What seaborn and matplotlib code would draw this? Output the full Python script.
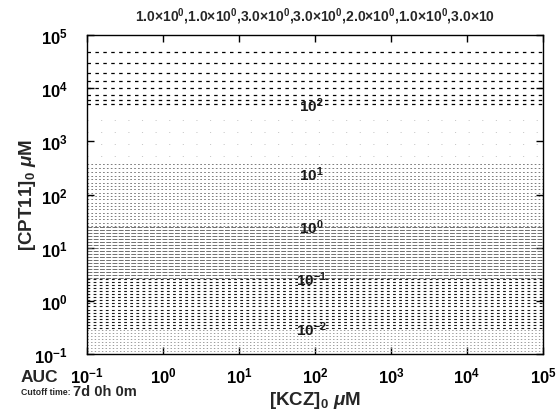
import numpy as np
import pandas as pd
import seaborn as sns
import matplotlib
matplotlib.use("Agg")
import matplotlib.pyplot as plt

# AUC profile along [CPT11]0 (the surface does not vary with [KCZ]0)
cpt11_knots = [0.1, 0.3, 2.6, 24.5, 245.0, 5000.0, 6000.0, 7400.0, 10000.0,
               13500.0, 19000.0, 29400.0, 48500.0, 100000.0]
auc_knots = [0.003, 0.01, 0.1, 1.0, 10.0, 100.0, 200.0, 300.0, 400.0,
             500.0, 600.0, 700.0, 800.0, 1200.0]

# labelled contour values
label_levels = [0.01, 0.1, 1.0, 10.0, 100.0]
label_texts = [r"$10^{-2}$", r"$10^{-1}$", r"$10^{0}$", r"$10^{1}$", r"$10^{2}$"]

# upper dashed contour values
upper_levels = [100.0, 200.0, 300.0, 400.0, 500.0, 600.0, 700.0, 800.0]

x_ticks = [1e-1, 1e0, 1e1, 1e2, 1e3, 1e4, 1e5]
y_ticks = [1e-1, 1e0, 1e1, 1e2, 1e3, 1e4, 1e5]

header = (r"1.0×10$^0$,1.0×10$^0$,3.0×10$^0$,3.0×10$^0$,"
          r"2.0×10$^0$,1.0×10$^0$,3.0×10")

sns.set_theme(style="ticks")
plt.rcParams.update({
    "font.family": ["Liberation Sans", "DejaVu Sans"],
    "font.weight": "bold",
    "mathtext.fontset": "custom",
    "mathtext.rm": "Liberation Sans:bold",
    "mathtext.bf": "Liberation Sans:bold",
    "mathtext.it": "Liberation Sans:bold:italic",
    "mathtext.default": "bf",
    "axes.linewidth": 1.0,
    "axes.edgecolor": "black",
    "xtick.direction": "in",
    "ytick.direction": "in",
    "xtick.top": True,
    "ytick.right": True,
    "lines.scale_dashes": False,
})

kcz = np.geomspace(0.1, 1e5, 60)
cpt = np.geomspace(0.1, 1e5, 4000)
profile = 10 ** np.interp(np.log10(cpt), np.log10(cpt11_knots), np.log10(auc_knots))
grid = pd.DataFrame(np.tile(profile[:, None], (1, kcz.size)), index=cpt, columns=kcz)
Z = grid.values

fig = plt.figure(figsize=(5.58, 4.10), dpi=100)
ax = fig.add_axes([0.156, 0.134, 0.817, 0.778])
ax.set_xscale("log")
ax.set_yscale("log")


def band(levels, color, lw, dashes):
    cs = ax.contour(kcz, cpt, Z, levels=levels, colors=color, linewidths=lw)
    cs.set_linestyle((0, dashes))
    return cs


# textured bands of closely spaced contours
band(np.geomspace(0.0035, 0.0095, 8), "0.55", 0.6, (1.0, 1.6))
band(np.geomspace(0.0105, 0.098, 17), "0.1", 0.8, (2.0, 2.4))
band(np.geomspace(0.105, 0.98, 18), "0.35", 0.6, (3.5, 1.0))
band(np.geomspace(1.05, 14.0, 19), "0.4", 0.6, (1.2, 1.6))
band([18.0, 27.0, 40.0, 60.0], "0.7", 0.5, (0.8, 9.0))
band(upper_levels, "black", 0.9, (2.5, 3.2))

# labels on the decade contours (lines themselves hidden inside the bands)
cs_lab = ax.contour(kcz, cpt, Z, levels=label_levels, colors="black", linewidths=0.0)
lab_pos = [(90.0, 10 ** np.interp(np.log10(v), np.log10(auc_knots), np.log10(cpt11_knots)))
           for v in label_levels]
ax.clabel(cs_lab, levels=label_levels, fmt=dict(zip(label_levels, label_texts)),
          manual=lab_pos, inline=False, fontsize=11, colors="0.1")

ax.set_xlim(1e-1, 1e5)
ax.set_ylim(1e-1, 1e5)
ax.set_xticks(x_ticks)
ax.set_yticks(y_ticks)
ax.minorticks_off()
ax.tick_params(axis="both", which="major", length=5, width=1, labelsize=12,
               colors="black")
ax.tick_params(axis="x", pad=8)
ax.tick_params(axis="y", pad=14)
for s in ax.spines.values():
    s.set_visible(True)
    s.set_color("black")

ax.set_xlabel(r"[KCZ]$_0$ $\mathit{\mu}$M", fontsize=13.5, fontweight="bold")
ax.set_ylabel(r"[CPT11]$_0$ $\mathit{\mu}$M", fontsize=13.5, fontweight="bold")
ax.xaxis.set_label_coords(0.5, -0.11)
ax.yaxis.set_label_coords(-0.107, 0.5)

fig.text(315 / 558, 1 - 17 / 410, header, ha="center", va="center",
         fontsize=10, fontweight="bold")
fig.text(21 / 558, 1 - 378 / 410, "AUC", ha="left", va="center",
         fontsize=12.5, fontweight="bold")
fig.text(21 / 558, 1 - 393 / 410, "Cutoff time:", ha="left", va="center",
         fontsize=6.3, fontweight="bold")
fig.text(73 / 558, 1 - 392 / 410, "7d 0h 0m", ha="left", va="center",
         fontsize=10.5, fontweight="bold")

fig.savefig("out.png", dpi=100, facecolor="white")
